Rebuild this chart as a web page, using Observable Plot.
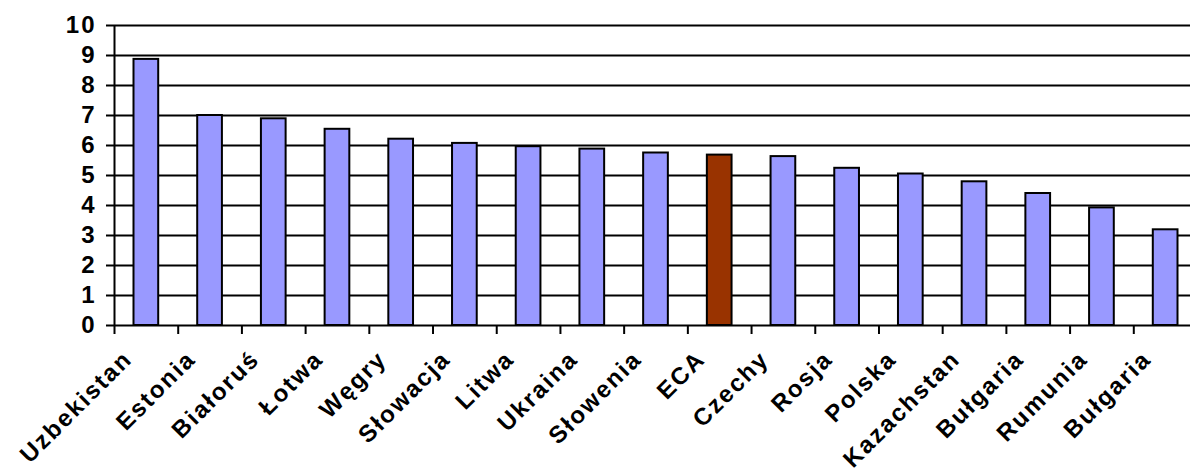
<!DOCTYPE html>
<html>
<head>
<meta charset="utf-8">
<script src="https://cdn.jsdelivr.net/npm/d3@7"></script>
<script src="https://cdn.jsdelivr.net/npm/@observablehq/plot@0.6"></script>
<style>
  html, body { margin: 0; padding: 0; background: #fff; overflow: hidden; }
  #chart svg { max-width: none; display: block; }
</style>
</head>
<body>
<div id="chart"></div>
<script>
// Countries in chart order (Bułgaria appears twice in the source series)
const countries = ["Uzbekistan", "Estonia", "Białoruś", "Łotwa", "Węgry", "Słowacja", "Litwa", "Ukraina",
  "Słowenia", "ECA", "Czechy", "Rosja", "Polska", "Kazachstan", "Bułgaria", "Rumunia", "Bułgaria"];
const values = [8.87, 7.0, 6.89, 6.54, 6.21, 6.07, 5.96, 5.88, 5.75, 5.68, 5.63, 5.24, 5.05, 4.79, 4.40, 3.92, 3.19];
const highlighted = "ECA";
const yTicks = [0, 1, 2, 3, 4, 5, 6, 7, 8, 9, 10];

const barColor = "#9999FF";
const highlightColor = "#993300";

// one row per category slot; slot i spans [i, i+1] on the x scale
const rows = countries.map((name, i) => ({ i, name, value: values[i] }));
const slotEdges = d3.range(countries.length + 1);

const font = "'Liberation Sans', Arial, Helvetica, sans-serif";

const chart = Plot.plot({
  width: 1190,
  height: 471,
  marginLeft: 114,
  marginRight: -7,
  marginTop: 25,
  marginBottom: 146,
  style: { fontFamily: font, fontWeight: "bold", fontSize: "24px", color: "#000", background: "#fff", overflow: "hidden", letterSpacing: "2px" },
  x: { domain: [0, countries.length], axis: null },
  y: { domain: [0, 10], axis: null },
  color: { type: "identity" },
  marks: [
    // horizontal gridlines
    Plot.ruleY(yTicks, { stroke: "#000", strokeWidth: 2 }),
    // value axis with outward ticks joining the gridlines
    Plot.axisY({ ticks: yTicks, label: null, tickSize: 8, tickPadding: 10, strokeWidth: 2, stroke: "#000",
      fontSize: 24, fontWeight: "bold", fill: "#000" }),
    Plot.ruleX([0], { y1: 0, y2: 10, stroke: "#000", strokeWidth: 2 }),
    // category boundary ticks below the baseline
    Plot.axisX({ ticks: slotEdges, label: null, tickSize: 9, strokeWidth: 2, stroke: "#000", tickFormat: () => "" }),
    // bars
    Plot.rectY(rows, {
      x1: "i",
      x2: d => d.i + 1,
      y: "value",
      fill: d => d.name === highlighted ? highlightColor : barColor,
      stroke: "#000",
      strokeWidth: 2,
      insetLeft: 19.5,
      insetRight: 19.5
    }),
    // rotated category labels
    Plot.text(rows, {
      x: d => d.i + 0.5,
      y: () => 0,
      text: "name",
      rotate: -45,
      textAnchor: "end",
      lineAnchor: "top",
      dx: -25,
      dy: 23,
      fontSize: 24,
      fontWeight: "bold",
      fill: "#000"
    })
  ]
});

document.getElementById("chart").append(chart);
</script>
</body>
</html>
